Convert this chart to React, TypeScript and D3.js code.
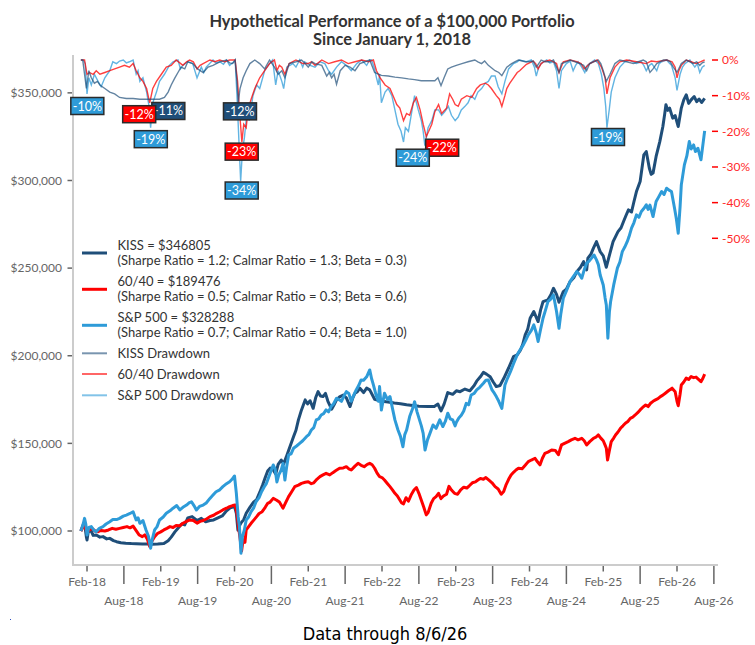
import * as d3 from 'd3';

// Point = [months since Jan 1 2018, value]. Values in $ thousands, drawdowns in %.
type Pt = [number, number];

const KISS_VALUE: Pt[] = [
  [0, 100], [0.4, 103.8], [0.6, 104.4], [0.9, 96.5], [1.0, 94.9], [1.2, 99.5], [1.6, 100.6], [2.0, 97.5],
  [2.5, 97.7], [3.1, 96.5], [3.6, 96.8], [4.2, 95.5], [4.7, 95.8], [5.3, 94.5], [5.8, 93.9], [6.5, 93.3],
  [7.3, 93.0], [8.2, 92.8], [9.0, 92.7], [10.0, 92.6], [11.0, 92.6], [11.5, 92.5], [12.5, 92.6], [13.5, 92.9],
  [14.2, 94.5], [14.7, 96.5], [15.3, 99.5], [15.8, 101.6], [16.4, 104.0], [16.9, 103.5], [17.4, 107.5],
  [18.1, 108.2], [18.9, 106.0], [19.6, 107.2], [20.3, 105.3], [21.0, 106.0], [21.6, 106.3], [22.3, 107.5],
  [23.0, 108.6], [23.7, 111.5], [24.3, 113.2], [25.0, 114.0], [25.3, 110.0], [25.55, 100.5], [25.8, 103.0],
  [26.1, 104.8], [26.5, 106.5], [26.9, 110.1], [27.5, 113.5], [28.1, 116.5], [28.6, 117.9], [29.1, 122.0],
  [29.6, 126.5], [30.0, 130.5], [30.4, 134.2], [30.8, 135.9], [31.3, 134.8], [31.7, 132.5], [32.1, 138.0],
  [32.6, 140.5], [33.0, 138.3], [33.4, 142.0], [33.8, 146.0], [34.6, 153.8], [35.0, 157.5], [35.4, 163.4],
  [35.9, 169.1], [36.5, 174.8], [36.9, 172.5], [37.3, 174.3], [37.8, 170.0], [38.2, 176.0], [38.6, 179.5],
  [39.0, 177.0], [39.4, 176.7], [39.8, 178.5], [40.2, 174.0], [40.8, 169.5], [41.2, 172.0], [41.6, 174.8],
  [42.1, 176.5], [42.7, 177.6], [43.2, 176.0], [43.8, 171.0], [44.2, 175.5], [44.6, 178.6], [45.0, 179.5],
  [45.4, 181.5], [46.0, 179.0], [46.5, 181.5], [47.0, 180.5], [47.8, 175.2], [48.4, 174.5], [49.0, 174.0],
  [50.0, 173.6], [51.0, 173.0], [52.0, 172.6], [53.0, 172.0], [54.0, 171.6], [55.0, 171.2], [56.5, 171.0],
  [57.5, 171.0], [58.1, 172.4], [58.6, 168.5], [59.1, 172.4], [59.7, 179.0], [60.5, 178.0], [61.1, 180.0],
  [61.7, 179.5], [62.5, 181.0], [63.3, 180.0], [64.0, 183.0], [64.4, 185.5], [65.0, 188.0], [65.5, 190.5],
  [66.0, 189.5], [66.6, 188.0], [67.1, 185.0], [67.6, 182.4], [68.2, 183.0], [68.8, 187.0], [69.6, 193.0],
  [70.4, 199.5], [71.0, 200.5], [71.5, 203.0], [71.9, 206.5], [72.3, 211.9], [72.7, 215.0], [73.1, 221.4],
  [73.7, 225.2], [74.4, 219.5], [74.8, 226.0], [75.2, 230.9], [76.0, 231.9], [76.5, 235.0], [76.9, 238.5],
  [77.4, 235.0], [77.8, 230.5], [78.5, 236.6], [79.0, 238.0], [79.6, 242.3], [80.2, 244.5], [80.7, 248.0],
  [81.3, 250.5], [81.8, 253.7], [82.3, 249.0], [82.5, 255.7], [83.0, 258.0], [83.4, 261.4], [83.9, 265.1],
  [84.5, 259.4], [85.0, 257.0], [85.5, 250.5], [85.9, 256.0], [86.6, 265.1], [87.0, 268.0], [87.4, 270.8],
  [87.9, 273.0], [88.3, 276.6], [88.7, 280.0], [89.1, 283.2], [89.6, 282.0], [90.0, 288.0], [90.4, 293.7],
  [91.0, 299.4], [91.3, 307.0], [91.6, 314.6], [92.0, 316.5], [92.5, 307.0], [92.8, 303.5], [93.1, 304.2],
  [93.6, 313.7], [94.2, 322.2], [94.7, 330.8], [95.0, 338.0], [95.2, 343.2], [95.5, 340.0], [95.8, 341.3],
  [96.3, 335.6], [96.7, 337.0], [97.2, 330.8], [97.7, 341.3], [98.1, 346.0], [98.5, 348.9], [98.9, 344.0],
  [99.3, 346.0], [99.8, 347.9], [100.2, 345.0], [100.6, 346.5], [101.0, 344.5], [101.5, 346.8],
];

const BAL_VALUE: Pt[] = [
  [0, 100], [0.3, 102.0], [0.6, 103.4], [0.8, 101.0], [1.0, 99.3], [1.4, 100.5], [1.8, 101.5], [2.3, 100.0],
  [2.8, 99.6], [3.3, 100.3], [3.9, 100.0], [4.5, 100.6], [5.1, 101.5], [5.7, 101.0], [6.3, 101.5], [6.9, 102.0],
  [7.5, 102.5], [8.0, 101.8], [8.5, 102.8], [9.0, 100.2], [9.5, 97.7], [10.0, 96.8], [10.4, 97.8], [10.8, 95.5],
  [11.2, 91.2], [11.6, 94.5], [12.0, 96.8], [12.5, 98.7], [13.0, 99.5], [13.5, 100.6], [14.0, 101.5],
  [14.5, 102.5], [15.0, 102.0], [15.5, 103.2], [16.1, 103.0], [16.6, 104.4], [17.2, 105.5], [17.7, 106.3],
  [18.3, 106.0], [18.9, 104.5], [19.4, 105.5], [19.9, 106.0], [20.5, 107.0], [21.0, 108.2], [21.6, 109.0],
  [22.1, 110.1], [22.6, 111.0], [23.1, 112.0], [23.7, 113.0], [24.2, 113.9], [24.7, 114.5], [25.1, 114.8],
  [25.4, 110.0], [25.7, 101.0], [25.9, 96.0], [26.15, 88.6], [26.4, 95.0], [26.7, 93.5], [26.9, 100.6],
  [27.3, 102.5], [27.7, 104.4], [28.2, 106.5], [28.6, 108.2], [29.0, 110.0], [29.5, 111.0], [30.0, 113.5],
  [30.4, 115.8], [30.8, 116.5], [31.3, 118.6], [31.8, 117.7], [32.3, 116.5], [32.9, 113.0], [33.3, 116.0],
  [33.8, 119.6], [34.3, 122.4], [34.8, 125.3], [35.4, 126.2], [35.9, 127.2], [36.5, 127.8], [37.0, 128.1],
  [37.5, 127.0], [37.9, 127.5], [38.4, 129.5], [38.9, 131.0], [39.4, 132.0], [39.9, 132.9], [40.5, 132.0],
  [41.0, 133.3], [41.5, 134.5], [42.1, 135.8], [42.7, 136.0], [43.2, 136.7], [43.6, 135.5], [44.0, 134.8],
  [44.6, 137.0], [45.1, 138.6], [45.6, 137.5], [46.1, 136.7], [46.6, 138.0], [47.0, 138.6], [47.4, 137.8],
  [47.8, 135.8], [48.2, 133.0], [48.6, 131.0], [49.0, 130.5], [49.4, 129.1], [49.9, 127.0], [50.3, 125.3],
  [50.7, 123.5], [51.1, 121.5], [51.5, 120.0], [51.9, 117.7], [52.2, 116.0], [52.5, 115.5], [52.9, 119.0],
  [53.3, 117.0], [53.8, 121.0], [54.2, 123.4], [54.6, 124.8], [55.0, 121.5], [55.4, 117.5], [55.8, 113.5],
  [56.2, 109.2], [56.5, 110.5], [57.0, 115.8], [57.4, 118.5], [57.8, 119.6], [58.2, 121.5], [58.6, 118.5],
  [59.0, 120.0], [59.5, 121.0], [59.9, 125.5], [60.3, 123.4], [60.8, 121.5], [61.3, 121.0], [61.8, 123.5],
  [62.3, 125.0], [62.8, 124.5], [63.2, 125.8], [63.7, 127.5], [64.2, 128.0], [64.6, 129.1], [65.0, 130.0],
  [65.5, 129.5], [65.9, 130.5], [66.4, 129.0], [66.9, 127.5], [67.4, 125.3], [67.9, 124.0], [68.4, 121.0],
  [68.8, 122.5], [69.2, 126.5], [69.6, 129.5], [70.0, 132.0], [70.4, 133.5], [70.8, 134.8], [71.2, 135.8],
  [71.8, 135.5], [72.3, 137.5], [72.8, 139.6], [73.3, 140.5], [73.9, 141.5], [74.3, 139.5], [74.7, 137.7],
  [75.1, 141.5], [75.5, 144.3], [76.0, 145.0], [76.6, 146.2], [77.2, 146.0], [77.7, 143.5], [78.2, 149.1],
  [78.7, 150.0], [79.3, 151.0], [79.8, 152.0], [80.4, 152.9], [80.9, 152.0], [81.5, 152.9], [81.9, 151.5],
  [82.3, 149.1], [82.8, 151.0], [83.4, 152.9], [83.8, 153.5], [84.2, 154.8], [84.6, 153.0], [85.0, 151.5],
  [85.3, 149.0], [85.5, 147.2], [85.7, 140.5], [86.0, 146.0], [86.3, 151.0], [86.7, 153.0], [87.0, 154.8],
  [87.4, 156.5], [87.8, 158.6], [88.2, 160.0], [88.6, 161.5], [89.0, 162.5], [89.4, 164.3], [89.8, 165.0],
  [90.2, 166.2], [90.6, 167.5], [91.0, 169.1], [91.4, 170.5], [91.9, 171.9], [92.3, 171.0], [92.7, 172.9],
  [93.1, 174.0], [93.5, 174.8], [93.9, 175.5], [94.3, 176.7], [94.7, 177.5], [95.1, 178.6], [95.6, 180.0],
  [96.2, 181.5], [96.7, 179.5], [97.0, 174.0], [97.2, 171.5], [97.5, 178.0], [97.7, 183.3], [98.1, 185.0],
  [98.5, 187.2], [98.9, 186.5], [99.3, 188.1], [99.7, 187.5], [100.1, 187.8], [100.5, 186.5], [100.9, 185.2],
  [101.2, 187.0], [101.5, 189.5],
];

const SPX_VALUE: Pt[] = [
  [0, 100], [0.3, 103.0], [0.6, 107.2], [0.8, 104.0], [1.0, 97.7], [1.3, 102.0], [1.7, 102.5], [2.1, 100.5],
  [2.5, 99.6], [3.0, 101.5], [3.6, 102.5], [4.1, 104.0], [4.7, 105.3], [5.2, 106.5], [5.8, 106.5], [6.3, 107.2],
  [6.9, 108.5], [7.4, 109.1], [8.0, 110.0], [8.5, 111.0], [9.0, 106.3], [9.3, 107.5], [9.6, 104.4], [10.1, 106.0],
  [10.6, 100.6], [11.0, 97.0], [11.35, 90.1], [11.6, 95.0], [12.0, 100.6], [12.4, 102.5], [12.8, 106.3],
  [13.4, 108.0], [13.9, 110.1], [14.5, 111.5], [15.0, 113.0], [15.6, 114.5], [16.1, 112.0], [16.6, 113.5],
  [17.2, 114.8], [17.6, 116.0], [18.0, 116.7], [18.4, 114.5], [18.8, 112.0], [19.3, 114.0], [19.9, 114.8],
  [20.4, 116.0], [21.0, 118.6], [21.5, 120.5], [22.0, 122.4], [22.6, 123.5], [23.1, 125.3], [23.7, 127.0],
  [24.2, 128.1], [24.6, 129.5], [25.0, 131.4], [25.3, 121.5], [25.6, 108.0], [25.8, 102.5], [26.05, 87.3],
  [26.3, 97.0], [26.6, 100.6], [26.9, 106.3], [27.3, 108.0], [27.7, 111.0], [28.1, 113.0], [28.5, 116.7],
  [29.0, 119.0], [29.4, 122.4], [29.8, 125.0], [30.2, 127.2], [30.8, 133.0], [31.3, 137.7], [31.6, 135.5],
  [31.9, 128.0], [32.2, 132.0], [32.6, 134.8], [32.9, 138.6], [33.2, 129.1], [33.5, 137.0], [33.8, 143.4],
  [34.2, 144.0], [34.6, 147.2], [35.1, 148.5], [35.6, 150.0], [36.1, 151.5], [36.7, 153.8], [37.1, 155.0],
  [37.5, 157.6], [37.9, 159.0], [38.3, 163.4], [38.7, 164.0], [39.1, 166.2], [39.5, 167.0], [39.9, 169.1],
  [40.3, 168.0], [40.7, 171.0], [41.1, 172.5], [41.6, 175.7], [42.0, 175.0], [42.4, 174.0], [42.8, 177.0],
  [43.2, 179.5], [43.6, 178.5], [44.0, 174.0], [44.4, 177.5], [44.8, 180.5], [45.2, 183.0], [45.6, 186.2],
  [46.0, 186.0], [46.5, 188.0], [47.0, 191.9], [47.3, 187.0], [47.6, 183.4], [48.1, 176.7], [48.4, 174.0],
  [48.6, 182.4], [48.9, 169.0], [49.4, 178.6], [49.9, 175.0], [50.3, 176.7], [50.7, 170.0], [51.1, 163.4],
  [51.6, 157.6], [52.0, 154.0], [52.4, 148.1], [52.7, 155.0], [53.0, 157.6], [53.5, 165.3], [54.0, 170.0],
  [54.3, 173.8], [54.7, 168.0], [55.1, 163.4], [55.4, 160.0], [55.7, 155.7], [56.0, 146.2], [56.4, 152.0],
  [56.8, 155.7], [57.3, 160.5], [57.8, 158.6], [58.4, 163.4], [58.9, 159.6], [59.3, 162.5], [59.7, 167.2],
  [60.1, 164.0], [60.5, 163.4], [60.9, 160.0], [61.1, 162.0], [61.5, 164.5], [61.9, 166.0], [62.3, 168.5],
  [62.7, 172.8], [63.1, 172.0], [63.5, 177.6], [64.0, 178.5], [64.4, 180.5], [64.9, 182.0], [65.5, 184.3],
  [65.9, 186.0], [66.3, 186.2], [66.9, 180.5], [67.3, 178.5], [67.6, 176.7], [68.0, 174.0], [68.5, 170.0],
  [69.0, 183.3], [69.4, 187.0], [69.9, 190.9], [70.4, 195.5], [71.0, 200.5], [71.5, 203.5], [72.0, 206.2],
  [72.4, 209.0], [72.8, 211.9], [73.3, 214.5], [73.7, 217.6], [74.1, 213.0], [74.4, 208.1], [74.8, 215.0],
  [75.2, 221.4], [75.6, 226.0], [76.0, 230.9], [76.5, 232.5], [76.9, 234.7], [77.4, 225.2], [77.8, 215.7],
  [78.1, 224.0], [78.5, 232.8], [79.0, 237.0], [79.6, 242.3], [80.1, 245.0], [80.7, 248.0], [81.1, 246.5],
  [81.5, 244.2], [81.9, 249.0], [82.3, 252.8], [82.7, 254.0], [83.1, 255.7], [83.5, 257.5], [83.9, 254.7],
  [84.2, 252.0], [84.5, 246.1], [85.0, 240.4], [85.3, 233.0], [85.5, 229.0], [85.75, 210.0], [86.0, 225.0],
  [86.2, 230.9], [86.7, 240.4], [87.3, 250.0], [87.7, 253.5], [88.1, 259.4], [88.5, 262.0], [88.9, 265.1],
  [89.2, 268.0], [89.6, 272.8], [90.0, 276.0], [90.4, 280.4], [90.8, 279.0], [91.2, 282.3], [91.6, 284.0],
  [92.0, 286.1], [92.3, 283.5], [92.6, 286.0], [93.1, 279.4], [93.6, 288.0], [94.0, 290.5], [94.5, 293.7],
  [94.9, 292.0], [95.3, 295.6], [95.7, 294.5], [96.1, 293.7], [96.6, 284.2], [96.9, 278.0], [97.2, 269.9],
  [97.5, 285.0], [97.7, 297.5], [98.2, 308.9], [98.6, 314.0], [99.0, 322.2], [99.3, 318.0], [99.7, 320.3],
  [100.0, 316.5], [100.4, 318.4], [100.9, 311.8], [101.2, 320.0], [101.5, 328.3],
];

const KISS_DD: Pt[] = [
  [0, 0], [0.3, 0], [0.9, -8], [1.3, -3], [1.7, -5], [2.2, -6.5], [2.7, -6], [3.1, -7], [3.9, -8], [4.7, -9],
  [5.5, -9.5], [6.3, -10.5], [7.4, -10.8], [8.5, -10.8], [9.6, -11], [10.7, -11], [11.7, -11], [12.8, -11],
  [13.6, -10.5], [14.2, -9], [14.7, -7], [15.3, -5], [15.8, -3.5], [16.3, -2], [16.9, -2.5], [17.4, -0.5],
  [18.2, -1], [19.0, -2.5], [19.9, -3.5], [20.7, -2], [21.5, -1.5], [22.6, -0.5], [23.7, 0], [24.2, -0.8],
  [24.7, -1], [25.1, 0], [25.4, -6], [25.6, -12], [25.9, -8], [26.4, -5], [26.9, -3], [27.5, -1], [28.3, 0],
  [29.1, -1], [29.9, -2.5], [30.7, 0], [31.5, -2], [32.1, -4], [32.7, -3], [33.2, -5], [33.9, -1], [35.0, -0.5],
  [35.9, 0], [36.5, -1], [37.0, -2], [37.6, -0.5], [38.1, -1], [39.2, -1.5], [40.0, -4.5], [40.4, -3.5],
  [40.8, -5], [41.2, -4], [41.6, -6.8], [42.2, -3], [43.0, -1.5], [43.8, -2], [44.6, -3], [45.4, -1],
  [46.2, -0.5], [47.0, 0], [47.8, -3.5], [48.9, -4.3], [50.0, -4.5], [51.1, -4.8], [52.2, -5], [53.3, -5.3],
  [54.3, -5.5], [55.4, -5.8], [56.5, -5.8], [57.6, -5.8], [58.1, -5], [58.6, -7.2], [59.1, -5], [59.7, -2.5],
  [60.3, -2], [61.1, -1.5], [62.0, -1], [63.0, -0.5], [64.1, 0], [64.6, -0.5], [65.2, -1], [65.7, -0.3],
  [66.3, -1.5], [67.4, -3], [68.0, -3.5], [68.5, -4.4], [69.3, -2], [70.1, -1], [70.6, -0.5], [71.2, 0],
  [72.3, -0.5], [73.0, -0.5], [73.6, -0.3], [74.1, -2], [74.5, -1], [74.9, 0], [75.6, -0.5], [76.3, -0.5],
  [76.9, 0], [77.4, -2], [77.8, -3.5], [78.2, -1], [79.0, -0.5], [79.6, 0], [80.4, -0.5], [81.2, -1],
  [81.8, -1.5], [82.3, -3], [82.8, -1], [83.4, -0.5], [84.2, 0], [84.6, -1], [85.0, -3], [85.5, -6],
  [86.1, -4], [86.9, -1], [87.7, 0], [88.8, -0.5], [89.9, -1], [90.7, -0.5], [91.5, 0], [92.0, -0.5],
  [92.6, -3.5], [93.1, -2.5], [93.7, -1], [94.8, 0], [95.4, 0], [95.9, -0.5], [96.4, -2], [97.0, -3.5],
  [97.7, -1], [98.5, 0], [99.1, -0.5], [99.6, -1], [100.2, -0.5], [100.7, -1.5], [101.1, -0.8], [101.5, -0.5],
];

const BAL_DD: Pt[] = [
  [0, 0], [0.6, 0], [1.0, -4], [1.4, -3.5], [2.0, -4], [2.5, -3], [3.1, -4], [3.9, -3.5], [4.7, -3],
  [5.5, -2.5], [6.3, -2], [7.1, -1.5], [7.9, -2], [8.5, -1], [9.0, -3], [9.6, -5], [10.1, -6], [10.7, -8],
  [11.2, -12], [11.7, -8], [12.3, -6], [13.1, -4], [13.9, -2], [14.7, -1.5], [15.5, 0], [16.1, -0.8],
  [16.6, -1.5], [17.2, -0.5], [17.7, 0], [18.3, -0.5], [18.9, -2.5], [19.4, -1.5], [19.9, -1], [21.0, 0],
  [21.8, -0.5], [22.6, 0], [23.4, -0.5], [24.2, 0], [25.1, 0], [25.5, -6], [25.8, -14], [26.2, -23],
  [26.5, -18], [26.9, -19], [27.2, -14], [27.7, -11], [28.3, -8], [29.1, -5], [29.9, -3], [30.7, -1],
  [31.5, 0], [31.9, -3], [32.3, -1.5], [32.7, -2], [33.2, -4], [33.9, -1], [35.0, 0], [36.1, -1], [37.0, -1],
  [37.5, -0.5], [38.1, -1.5], [39.2, 0], [40.3, -1], [41.3, -0.5], [42.4, 0], [43.5, -1], [44.6, -0.5],
  [45.7, 0], [46.8, -0.5], [47.6, 0], [48.1, -3], [48.7, -5], [49.5, -7], [50.3, -8], [50.8, -10],
  [51.4, -12.5], [51.9, -13.5], [52.5, -17], [53.0, -15], [53.5, -15.5], [54.1, -12], [54.6, -10.5],
  [55.2, -14], [55.7, -18], [56.2, -21.5], [56.6, -20], [57.1, -18], [57.6, -14.5], [58.2, -12.5],
  [58.7, -15], [59.5, -13.5], [60.0, -9.5], [60.5, -11], [60.9, -12.5], [61.4, -13], [61.9, -11],
  [62.8, -10], [63.6, -10.5], [64.4, -8], [65.0, -7], [65.8, -6.5], [66.3, -7], [66.8, -8], [67.6, -10],
  [68.1, -11], [68.5, -13], [69.0, -10], [69.3, -8], [69.8, -6.5], [70.4, -5], [71.0, -3.5], [71.4, -3],
  [72.5, -1.2], [73.6, -0.3], [74.0, -1], [74.4, -2.5], [74.9, -1], [75.3, -0.5], [76.3, 0], [77.4, -1],
  [77.8, -3.5], [78.5, -0.5], [79.6, 0], [80.7, -0.5], [81.4, -1], [81.9, -2.5], [82.8, -1], [84.0, 0],
  [84.7, -2], [85.3, -5], [85.6, -9.5], [86.1, -5], [86.9, -2], [87.7, -0.5], [88.8, 0], [90.4, -0.5],
  [92.0, -1], [92.8, -0.3], [93.7, -0.5], [95.3, 0], [96.2, -0.5], [96.7, -2], [97.0, -5], [97.3, -3],
  [97.7, -1.5], [98.5, 0], [99.3, -0.5], [100.1, -1], [100.8, -0.5], [101.5, 0],
];

const SPX_DD: Pt[] = [
  [0, 0], [0.35, 0], [0.7, -1], [1.0, -9.5], [1.3, -5], [1.7, -7], [2.2, -4], [2.8, -6], [3.3, -7.5],
  [3.9, -5], [4.7, -3], [5.2, -0.5], [5.8, -1], [6.3, -0.3], [6.9, 0], [7.4, -0.8], [7.9, -0.5], [8.5, 0],
  [9.0, -4], [9.3, -3], [9.6, -6], [10.1, -5], [10.7, -9], [11.1, -13], [11.35, -19], [11.7, -12], [12.3, -9],
  [12.8, -6], [13.6, -4], [14.4, -1.5], [15.0, -0.5], [15.8, 0], [16.2, -2.5], [16.6, -1.5], [17.4, -0.5],
  [18.2, -1], [18.9, -5], [19.6, -2], [20.0, -3.5], [20.4, -2], [21.5, 0], [22.0, -0.8], [22.6, -0.5],
  [23.2, -1.2], [23.7, 0], [24.2, -1.5], [24.7, -0.8], [25.1, 0], [25.4, -10], [25.7, -22], [26.0, -34],
  [26.3, -25], [26.6, -22], [27.0, -15], [27.4, -17], [28.0, -10], [28.6, -7], [29.1, -8], [29.9, -3],
  [30.7, -1], [31.2, 0], [31.7, -7], [32.1, -3], [32.7, -6], [33.0, -8], [33.5, -2], [34.0, -1.5], [34.5, -1],
  [35.0, -2], [35.6, 0], [36.1, -2], [36.4, -0.5], [37.3, -1.5], [38.1, -2], [38.9, -0.5], [39.7, -1],
  [40.3, -3], [40.8, -4], [41.6, -2], [42.4, -0.5], [43.2, -1.5], [44.0, -3], [44.9, -1], [45.7, 0],
  [46.5, -1.5], [47.0, 0], [47.3, 0], [47.8, -2.5], [48.1, -5], [48.4, -7], [48.6, -4], [48.9, -12],
  [49.5, -9], [50.0, -8], [50.6, -10], [51.1, -14], [51.6, -18], [52.1, -20], [52.5, -23], [52.8, -19],
  [53.3, -20], [53.8, -15], [54.3, -10], [54.9, -14], [55.4, -17], [55.7, -20], [55.97, -24], [56.5, -19],
  [57.1, -17], [57.6, -14], [58.2, -14], [58.7, -15.5], [59.2, -14.5], [59.8, -13], [60.3, -15.5],
  [60.9, -17], [61.4, -16], [61.9, -14], [62.5, -13], [63.0, -12], [63.5, -10], [64.1, -11], [64.6, -9],
  [65.2, -8], [65.8, -6.5], [66.3, -6], [66.8, -4.5], [67.4, -4.5], [67.9, -7.5], [68.5, -9.5], [69.0, -6],
  [69.6, -2.5], [70.4, -1], [71.0, -0.5], [71.4, 0], [72.5, -0.5], [73.3, 0], [73.8, -2], [74.1, -4.5],
  [74.5, -2], [74.9, -1], [75.8, 0], [76.3, -0.8], [76.9, -0.5], [77.4, -3], [77.8, -8], [78.2, -3],
  [78.6, -2], [79.0, -1], [79.6, -0.3], [80.1, -3], [80.5, -1.5], [80.9, -0.5], [81.5, -2], [82.0, -3.5],
  [82.4, -1.5], [82.8, -1], [83.6, 0], [84.2, -1], [84.7, -4], [85.1, -8], [85.4, -13], [85.6, -19],
  [85.97, -14], [86.3, -9], [86.9, -5], [87.7, -2], [88.5, -0.5], [89.3, 0], [89.8, -0.5], [90.4, -1],
  [91.2, -0.5], [91.6, -1.5], [92.0, -3], [92.5, -1.5], [92.9, -1], [93.3, -2], [93.7, -3], [94.1, -1],
  [94.5, -0.5], [95.3, 0], [95.7, -0.8], [96.1, -1.5], [96.7, -5], [97.0, -8.5], [97.5, -4], [97.9, -2],
  [98.3, -1], [99.1, 0], [99.5, -1], [99.9, -2], [100.3, -1], [100.7, -3.5], [101.1, -2], [101.5, -1.5],
];

// drawdown call-outs: [series, text, month, drawdown % at box centre]
const DD_LABELS: [string, string, number, number][] = [
  ['spx', '-10%', 1.05, -12.9],
  ['kiss', '-11%', 14.23, -14.3],
  ['bal', '-12%', 9.49, -15.2],
  ['spx', '-19%', 11.38, -22.2],
  ['kiss', '-12%', 25.89, -14.4],
  ['bal', '-23%', 26.17, -25.7],
  ['spx', '-34%', 26.17, -36.6],
  ['bal', '-22%', 58.79, -24.6],
  ['spx', '-24%', 54.01, -27.4],
  ['spx', '-19%', 85.77, -21.6],
];

const X_TICK_LABELS = [
  'Feb-18', 'Aug-18', 'Feb-19', 'Aug-19', 'Feb-20', 'Aug-20', 'Feb-21', 'Aug-21', 'Feb-22',
  'Aug-22', 'Feb-23', 'Aug-23', 'Feb-24', 'Aug-24', 'Feb-25', 'Aug-25', 'Feb-26', 'Aug-26',
];
const VALUE_TICKS = [100, 150, 200, 250, 300, 350];
const DD_TICKS = [0, -10, -20, -30, -40, -50];

const LEGEND = [
  { key: 'kiss', lines: ['KISS = $346805', '(Sharpe Ratio = 1.2; Calmar Ratio = 1.3; Beta = 0.3)'], dd: false },
  { key: 'bal', lines: ['60/40 = $189476', '(Sharpe Ratio = 0.5; Calmar Ratio = 0.3; Beta = 0.6)'], dd: false },
  { key: 'spx', lines: ['S&P 500 = $328288', '(Sharpe Ratio = 0.7; Calmar Ratio = 0.4; Beta = 1.0)'], dd: false },
  { key: 'kiss', lines: ['KISS Drawdown'], dd: true },
  { key: 'bal', lines: ['60/40 Drawdown'], dd: true },
  { key: 'spx', lines: ['S&P 500 Drawdown'], dd: true },
];

const COLORS: Record<string, string> = {
  kiss: '#1f4e79',
  bal: '#ff0000',
  spx: '#2e9bd8',
};

const FONT = 'Lato, "Open Sans", sans-serif';
const W = 755;
const H = 645;

export default function App() {
  const x = d3.scaleLinear().domain([-1.28, 103.02]).range([73, 714]);
  const yVal = d3.scaleLinear().domain([80.6, 371.6]).range([565, 55]);
  const yDD = d3.scaleLinear().domain([0, -50]).range([60, 238.3]);

  const valLine = d3.line<Pt>().x(d => x(d[0])).y(d => yVal(d[1]));
  const ddLine = d3.line<Pt>().x(d => x(d[0])).y(d => yDD(d[1]));

  const fmt = d3.format(',');
  const legendY = [245, 281.3, 317.3, 353.3, 374, 395.3];

  return (
    <svg width={W} height={H} style={{ position: 'absolute', left: 0, top: 0, background: '#fff' }} fontFamily={FONT}>
      {/* title */}
      <text x={392} y={27} textAnchor="middle" fontSize={16.4} fontWeight={700} fill="#333">
        Hypothetical Performance of a $100,000 Portfolio
      </text>
      <text x={392} y={45} textAnchor="middle" fontSize={16.4} fontWeight={700} fill="#333">
        Since January 1, 2018
      </text>

      {/* left axis */}
      <line x1={73} x2={73} y1={55} y2={566} stroke="#cccccc" strokeWidth={2} />
      {VALUE_TICKS.map(v => (
        <g key={v}>
          <line x1={67.5} x2={72} y1={yVal(v)} y2={yVal(v)} stroke="#666" strokeWidth={1.5} />
          <text x={62} y={yVal(v)} dy="0.35em" textAnchor="end" fontSize={12} fill="#666">
            {'$' + fmt(v * 1000)}
          </text>
        </g>
      ))}

      {/* bottom axis */}
      <line x1={72} x2={718} y1={565} y2={565} stroke="#cccccc" strokeWidth={2} />
      {X_TICK_LABELS.map((lab, i) => {
        const m = 1 + 6 * i;
        const isAug = i % 2 === 1;
        return (
          <g key={lab}>
            <line x1={x(m)} x2={x(m)} y1={566} y2={isAug ? 584 : 571.5} stroke="#666" strokeWidth={1.5} />
            <text x={x(m)} y={isAug ? 601 : 582} dy="0.35em" textAnchor="middle" fontSize={12} fill="#666">
              {lab}
            </text>
          </g>
        );
      })}

      {/* right (drawdown) axis */}
      {DD_TICKS.map(t => (
        <g key={t}>
          <line x1={712} x2={718} y1={yDD(t)} y2={yDD(t)} stroke="#ff0000" strokeWidth={1.5} />
          <text x={722} y={yDD(t)} dy="0.35em" fontSize={12} fill="#ff2a2a">
            {t + '%'}
          </text>
        </g>
      ))}

      {/* portfolio values */}
      <path d={valLine(KISS_VALUE) || ''} fill="none" stroke={COLORS.kiss} strokeWidth={3} strokeLinejoin="round" />
      <path d={valLine(BAL_VALUE) || ''} fill="none" stroke={COLORS.bal} strokeWidth={3} strokeLinejoin="round" />
      <path d={valLine(SPX_VALUE) || ''} fill="none" stroke={COLORS.spx} strokeWidth={3} strokeLinejoin="round" />

      {/* drawdowns */}
      <path d={ddLine(SPX_DD) || ''} fill="none" stroke={COLORS.spx} strokeOpacity={0.75} strokeWidth={1.4} />
      <path d={ddLine(BAL_DD) || ''} fill="none" stroke={COLORS.bal} strokeOpacity={0.75} strokeWidth={1.4} />
      <path d={ddLine(KISS_DD) || ''} fill="none" stroke={COLORS.kiss} strokeOpacity={0.7} strokeWidth={1.4} />

      {/* drawdown call-outs */}
      {DD_LABELS.map(([key, text, m, dd], i) => (
        <g key={i} transform={`translate(${x(m)},${yDD(dd)})`}>
          <rect x={-16.5} y={-8.5} width={33} height={17} fill={COLORS[key]} stroke="#2b2b2b" strokeWidth={1.5} />
          <text x={0} y={0} dy="0.36em" textAnchor="middle" fontSize={12.5} fill="#fff">
            {text}
          </text>
        </g>
      ))}

      {/* legend */}
      {LEGEND.map((item, i) => {
        const ly = item.dd ? legendY[i] : legendY[i] + 8;
        return (
          <g key={i}>
            <line
              x1={82} x2={107} y1={ly} y2={ly}
              stroke={COLORS[item.key]}
              strokeWidth={item.dd ? 2 : 3}
              strokeOpacity={item.dd ? 0.6 : 1}
            />
            {item.lines.map((t, j) => (
              <text key={j} x={117.5} y={legendY[i] + j * 15.4} dy="0.35em" fontSize={13} fill="#333">
                {t}
              </text>
            ))}
          </g>
        );
      })}

      <text
        x={385} y={640} textAnchor="middle" fontSize={18}
        fontFamily='"DejaVu Sans Condensed", "DejaVu Sans", sans-serif'
        style={{ fontStretch: 'condensed' }}
        fill="#000"
      >
        Data through 8/6/26
      </text>
      <rect x={10} y={619} width={1} height={1} fill="#3050c0" />
    </svg>
  );
}
